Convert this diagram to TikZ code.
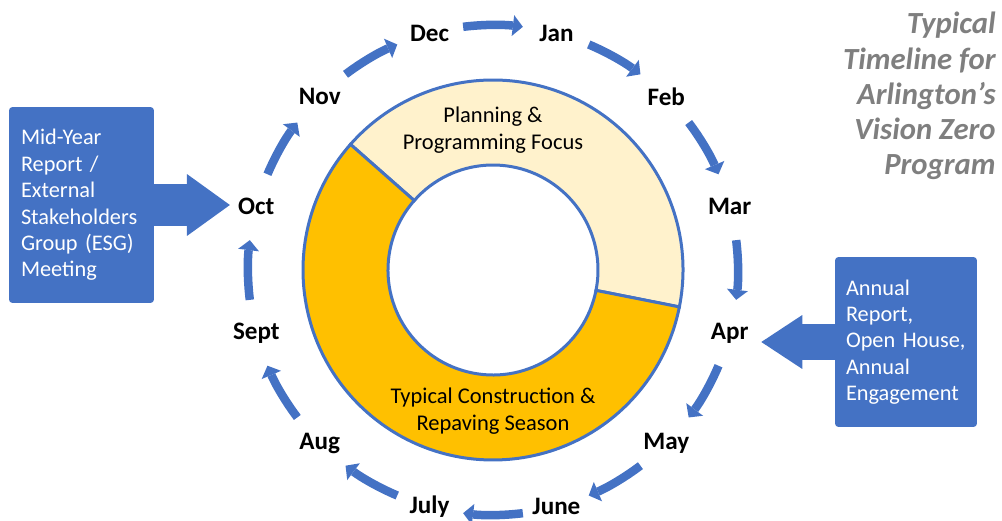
\documentclass[tikz,border=0pt]{standalone}
\usepackage{fontspec}
\setmainfont{Carlito}
\usetikzlibrary{arrows.meta,positioning}
\definecolor{vzblue}{RGB}{68,114,196}
\definecolor{planyellow}{RGB}{255,242,204}
\definecolor{buildgold}{RGB}{255,192,0}
\definecolor{titlegray}{RGB}{127,127,127}

\begin{document}
\begin{tikzpicture}[x=0.02cm, y=0.02cm,
    month/.style={font=\fontsize{14.3}{17}\selectfont\bfseries, inner sep=0pt},
    monthflow/.style={vzblue, line width=0.17cm, -{Triangle[length=0.2cm, width=0.42cm, line width=0pt]}},
    ring/.style={draw=vzblue, line width=0.06cm},
    ringtext/.style={align=center, font=\fontsize{12.8}{15}\selectfont},
    infobox/.style={fill=vzblue, text=white, rounded corners=2pt, align=left,
      font=\fontsize{12.7}{15}\selectfont, inner ysep=0pt},
    bigflow/.style={vzblue}]
    \useasboundingbox (-493,-251) rectangle (509,270);

    % Anillo
    \draw[ring, fill=planyellow] (-11.2:190) arc (-11.2:138.6:190) -- (138.6:105) arc (138.6:-11.2:105) -- cycle;
    \draw[ring, fill=buildgold] (138.6:190) arc (138.6:348.8:190) -- (348.8:105) arc (348.8:138.6:105) -- cycle;
    \node[ringtext] (plan) at (0,140) {Planning \&\\Programming Focus};
    \node[ringtext] (build) at (0,-141) {Typical Construction \&\\Repaving Season};

    % Meses
    \foreach \name/\lbl/\ang in {jan/Jan/75, feb/Feb/45, mar/Mar/15, apr/Apr/-15,
        may/May/-45, jun/June/-75, jul/July/-105, aug/Aug/-135,
        sep/Sept/-165, oct/Oct/165, nov/Nov/135, dec/Dec/105}
      \node[month] (\name) at (\ang:245) {\lbl};

    % Flechas entre meses
    \foreach \ang in {90,60,...,-240} {
      \coordinate (flowstart) at (\ang+7:245);
      \draw[monthflow] (flowstart) arc[start angle=\ang+7, end angle=\ang-7, radius=245];
    }

    % Cuadros
    \node[infobox, text width=2.42cm, inner xsep=0.24cm, minimum height=3.92cm] (esg) at (-411.5,65)
      {Mid-Year\\Report /\\External\\Stakeholders\\Group (ESG)\\Meeting};
    \node[infobox, text width=2.40cm, inner xsep=0.22cm, minimum height=3.4cm] (annual) at (413,-72)
      {Annual\\Report,\\Open House,\\Annual\\Engagement};

    % Flechas grandes
    \draw[bigflow, line width=0.84cm, -{Triangle[length=0.86cm, width=1.24cm, line width=0pt]}, shorten >=0.16cm]
      (esg.east) -- (esg.east -| oct.west);
    \draw[bigflow, line width=0.72cm, -{Triangle[length=0.82cm, width=1.08cm, line width=0pt]}, shorten >=0.25cm]
      (annual.west) -- (annual.west -| apr.east);

    % Titulo
    \node[anchor=north east, align=right, inner sep=0pt, text=titlegray,
      font=\fontsize{17.5}{20}\selectfont\bfseries\itshape] (title) at (503,258)
      {Typical\\Timeline for\\Arlington’s\\Vision Zero\\Program};
\end{tikzpicture}
\end{document}
